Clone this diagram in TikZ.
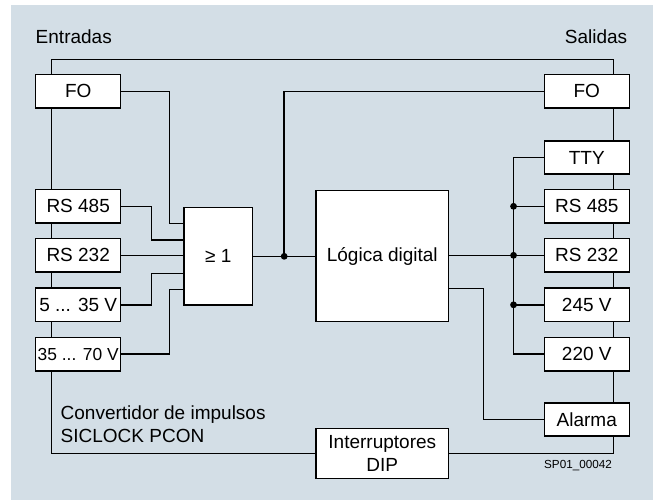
\documentclass[tikz,border=0pt]{standalone}
\usepackage{fontspec}
\setmainfont{Liberation Sans}
\usetikzlibrary{positioning,backgrounds,calc}
\definecolor{panelblue}{RGB}{211,222,230}

\begin{document}
\begin{tikzpicture}[x=0.5pt,y=-0.5pt,line width=0.75pt,
        font=\fontsize{9.5}{11.2}\selectfont,
        portbox/.style={draw,fill=white,inner xsep=1pt,inner ysep=0pt,
                        minimum width=42.5pt,minimum height=16.6pt},
        blockbox/.style={draw,fill=white,align=center},
        joint/.style={circle,fill=black,inner sep=0pt,minimum size=3.4pt}]
        \useasboundingbox (0,0) rectangle (653,500);

        % inputs
        \node[portbox] (inFO) at (78.2,91.3) {FO};
        \node[portbox] (in485) at (78.2,206.3) {RS 485};
        \node[portbox] (in232) at (78.2,255.3) {RS 232};
        \node[portbox] (in535) at (78.2,304.8) {5 ... 35 V};
        \node[portbox,inner xsep=0pt,font=\fontsize{8.7}{10}\selectfont] (in3570)
              at (78.2,354.2) {35 ... 70 V};

        % outputs
        \node[portbox] (outFO) at (586.8,91.3) {FO};
        \node[portbox] (outTTY) at (586.8,157.5) {TTY};
        \node[portbox] (out485) at (586.8,206.3) {RS 485};
        \node[portbox] (out232) at (586.8,255.3) {RS 232};
        \node[portbox] (out245) at (586.8,304.8) {245 V};
        \node[portbox] (out220) at (586.8,354.2) {220 V};
        \node[portbox] (alarm) at (586.8,419.5) {Alarma};

        \node[blockbox,minimum width=34.2pt,minimum height=48.7pt] (gate)
              at (218.2,256.3) {≥ 1};
        \node[blockbox,minimum width=66.3pt,minimum height=65.5pt] (logic)
              at (382.3,256.2) {Lógica digital};
        \node[blockbox,minimum width=66.3pt,minimum height=25.2pt,inner ysep=1pt] (dip)
              at (382.3,453.5) {Interruptores\\DIP};

        \node[anchor=base west,inner sep=0pt] (inLabel) at (35,43) {Entradas};
        \node[anchor=base east,inner sep=0pt] (outLabel) at (628,43) {Salidas};
        \node[anchor=west,align=left] (devLabel) at (53.3,424)
              {Convertidor de impulsos\\SICLOCK PCON};
        \node[font=\fontsize{5.85}{7}\selectfont] (figId) at (578,466) {SP01\_00042};

        \coordinate (tl) at (51.7,59.3);
        \coordinate (tr) at (613,59.3);

        \begin{scope}[on background layer]
            \fill[panelblue] (11,5) rectangle (653,500);
            \draw (dip.west) -| (tl) -- (tr) |- (dip.east);
        \end{scope}

        % into the OR gate
        \draw (inFO.east) -| ([xshift=-7pt,yshift=16.5pt]gate.west) -- ([yshift=16.5pt]gate.west);
        \draw (in485.east) -| ([xshift=-15.85pt,yshift=8.15pt]gate.west) -- ([yshift=8.15pt]gate.west);
        \draw (in232.east) -- (in232.east -| gate.west);
        \draw (in535.east) -| ([xshift=-15.85pt,yshift=-8.5pt]gate.west) -- ([yshift=-8.5pt]gate.west);
        \draw (in3570.east) -| ([xshift=-7pt,yshift=-16.5pt]gate.west) -- ([yshift=-16.5pt]gate.west);

        % gate to logic
        \draw (gate.east) -- (gate.east -| logic.west);
        \coordinate (split) at ($(gate.east)!0.5!(gate.east -| logic.west)$);
        \draw (split) |- (outFO.west);
        \node[joint] (splitDot) at (split) {};

        % logic to outputs
        \draw (logic.east |- out232.west) -- (out232.west);
        \draw (outTTY.west) -- ++(-15pt,0) coordinate (fan) |- (out220.west);
        \draw (fan |- out485.west) -- (out485.west);
        \draw (fan |- out245.west) -- (out245.west);
        \node[joint] (dot485) at (fan |- out485.west) {};
        \node[joint] (dot232) at (fan |- out232.west) {};
        \node[joint] (dot245) at (fan |- out245.west) {};
        \draw ([yshift=-16.25pt]logic.east) -- ++(17.15pt,0) |- (alarm.west);
    \end{tikzpicture}
\end{document}
